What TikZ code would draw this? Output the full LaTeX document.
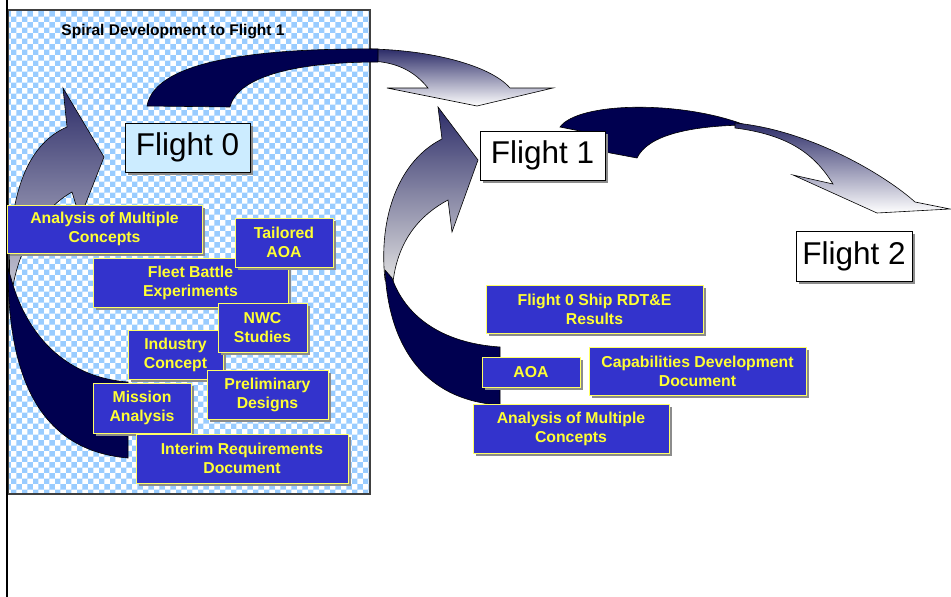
\documentclass[tikz,border=0pt]{standalone}
\usepackage{fontspec}
\setmainfont{Liberation Sans}
\usepackage{tikz}
\usetikzlibrary{patterns, shadows}
\definecolor{navy}{HTML}{000050}
\definecolor{slate}{HTML}{2C2C68}
\definecolor{fadegray}{HTML}{C8C8D4}
\definecolor{boxblue}{HTML}{3333CC}
\definecolor{boxline}{HTML}{FFFF66}
\definecolor{boxtext}{HTML}{FFFF33}
\definecolor{checker}{HTML}{99CCFF}
\definecolor{paleblue}{HTML}{CCECFF}
\tikzstyle{bluebox} = [draw=boxline, line width=1pt, fill=boxblue, text=boxtext, font=\fontsize{15.8}{19}\selectfont\bfseries, align=center, inner sep=0pt, drop shadow={shadow xshift=3pt, shadow yshift=-3pt, fill=black!45, opacity=1}]
\tikzstyle{flightbox} = [draw=black, line width=0.8pt, fill=white, font=\fontsize{31.5}{35}\selectfont, inner sep=0pt, minimum height=49pt, drop shadow={shadow xshift=3pt, shadow yshift=-3pt, fill=black!45, opacity=1}]
\tikzstyle{ribbon} = [draw=black, line width=0.6pt, fill=navy]
\tikzstyle{ribbonfade} = [draw=black, line width=0.6pt, top color=slate]

\begin{document}
\begin{tikzpicture}[x=1pt, y=-1pt]
        \useasboundingbox (0,0) rectangle (951,597);
        % panel
        \fill[white] (8,10) rectangle (370,494);
        \fill[pattern=checkerboard, pattern color=checker] (8,10) rectangle (370,494);
        \draw[black!75, line width=1.2pt] (8,10) rectangle (370,494);
        \draw[line width=2.8pt] (7,0) -- (7,597);
        \node[font=\fontsize{15.5}{18}\selectfont\bfseries] (title) at (173,32) {Spiral Development to Flight 1};

        % spiral arrows
        \draw[ribbonfade, bottom color=fadegray] (10,290) .. controls (6,200) and (25,145) .. (67,127) -- (63,88) -- (104,157) -- (80,218) -- (72,192) .. controls (40,210) and (18,250) .. (12,292) -- cycle;
        \draw[ribbon] (8,268) .. controls (8,370) and (35,450) .. (128,458) -- (128,382) .. controls (70,378) and (30,340) .. (13,285) -- cycle;
        \draw[ribbonfade, bottom color=white] (370,49) .. controls (430,50) and (490,65) .. (510,88) -- (553,88) -- (477,106) -- (387,88) -- (428,88) .. controls (415,72) and (398,62) .. (370,61) -- cycle;
        \draw[ribbon] (147,106) .. controls (155,60) and (260,48) .. (378,49) -- (378,62) .. controls (300,62) and (238,75) .. (230,107) -- cycle;
        \draw[ribbonfade, bottom color=black!12] (385,280) .. controls (378,215) and (400,160) .. (442,139) -- (438,107) -- (478,160) -- (452,232) -- (448,200) .. controls (420,215) and (398,240) .. (393,282) -- cycle;
        \draw[ribbon] (385,270) .. controls (388,340) and (420,400) .. (500,405) -- (500,347) .. controls (440,343) and (405,315) .. (392,278) -- cycle;
        \draw[ribbon] (600,135) -- (560,127) .. controls (578,102) and (680,100) .. (745,125) .. controls (690,126) and (648,135) .. (637,158) -- (605,152) -- cycle;
        \draw[ribbonfade, bottom color=white] (735,123) .. controls (810,130) and (885,175) .. (915,202) -- (950,209) -- (877,213) -- (793,175) -- (833,184) .. controls (815,155) and (790,135) .. (735,128) -- cycle;

        % flights
        \node[flightbox, fill=paleblue, minimum width=125pt] (f0) at (187.5,147.5) {Flight 0};
        \node[flightbox, minimum width=125pt] (f1) at (542.5,155.5) {Flight 1};
        \node[flightbox, minimum width=116pt, minimum height=50pt] (f2) at (854,256) {Flight 2};

        % flight 0 inputs
        \node[bluebox, minimum width=195pt, minimum height=48pt] (amcA) at (104.5,229) {Analysis of Multiple\\Concepts};
        \node[bluebox, minimum width=195pt, minimum height=49pt] (fbe) at (190.5,282.5) {Fleet Battle\\Experiments};
        \node[bluebox, minimum width=98pt, minimum height=49pt] (taoa) at (284,242.5) {Tailored\\AOA};
        \node[bluebox, minimum width=95pt, minimum height=49pt] (ind) at (175.5,354.5) {Industry\\Concept};
        \node[bluebox, minimum width=89pt, minimum height=49pt] (nwc) at (262.5,327.5) {NWC\\Studies};
        \node[bluebox, minimum width=121pt, minimum height=49pt] (prel) at (267.5,394.5) {Preliminary\\Designs};
        \node[bluebox, minimum width=98pt, minimum height=50pt] (mis) at (142,408) {Mission\\Analysis};
        \node[bluebox, minimum width=212pt, minimum height=49pt] (ird) at (242,458.5) {Interim Requirements\\Document};

        % flight 1 inputs
        \node[bluebox, minimum width=217pt, minimum height=48pt] (rdte) at (594.5,309) {Flight 0 Ship RDT\&E\\Results};
        \node[bluebox, minimum width=98pt, minimum height=30pt] (aoa) at (531,372) {AOA};
        \node[bluebox, minimum width=217pt, minimum height=48pt] (cdd) at (697.5,371) {Capabilities Development\\Document};
        \node[bluebox, minimum width=196pt, minimum height=49pt] (amcB) at (571,428.5) {Analysis of Multiple\\Concepts};
\end{tikzpicture}
\end{document}
